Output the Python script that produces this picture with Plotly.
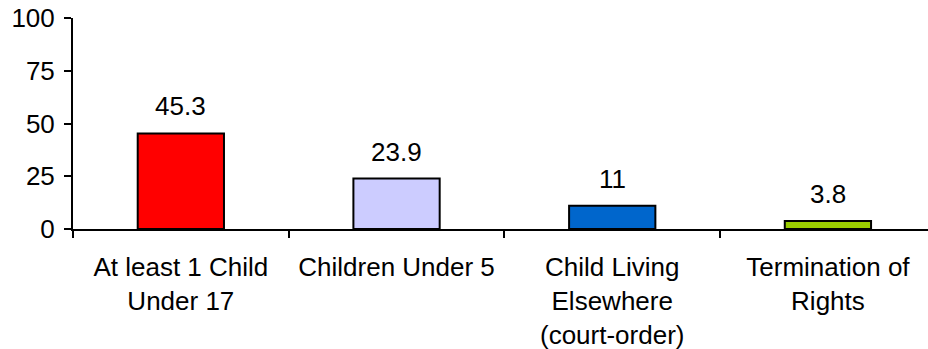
import plotly.graph_objects as go

# Chart data
categories = [
    "At least 1 Child<br>Under 17",
    "Children Under 5",
    "Child Living<br>Elsewhere<br>(court-order)",
    "Termination of<br>Rights",
]
values = [45.3, 23.9, 11, 3.8]
bar_colors = ["#FF0000", "#CCCCFF", "#0066CC", "#99CC00"]
y_ticks = [0, 25, 50, 75, 100]

FONT = "Arial, 'Liberation Sans', sans-serif"
FS = 26

fig = go.Figure()
fig.add_trace(
    go.Bar(
        x=categories,
        y=values,
        width=0.4,
        marker=dict(color=bar_colors, line=dict(color="black", width=2)),
        hoverinfo="skip",
    )
)

# Value labels above each bar
for cat, val in zip(categories, values):
    fig.add_annotation(
        x=cat, y=val, text=f"{val:g}", showarrow=False,
        yanchor="bottom", yshift=10,
        font=dict(family=FONT, size=FS, color="black"),
    )

fig.update_layout(
    width=928, height=349,
    margin=dict(l=73, r=0, t=18, b=120),
    paper_bgcolor="white", plot_bgcolor="white",
    showlegend=False,
    font=dict(family=FONT, size=FS, color="black"),
    xaxis=dict(
        type="category",
        range=[-0.5, 3.464],
        showline=True, linecolor="black", linewidth=2,
        ticks="outside", tickson="boundaries", ticklen=7, tickwidth=2, tickcolor="black",
        showgrid=False, zeroline=False,
        tickfont=dict(family=FONT, size=FS, color="black"),
        ticklabelstandoff=14,
    ),
    yaxis=dict(
        range=[0, 100],
        tickvals=y_ticks,
        showline=True, linecolor="black", linewidth=2,
        ticks="outside", ticklen=7, tickwidth=2, tickcolor="black",
        showgrid=False, zeroline=False,
        tickfont=dict(family=FONT, size=FS, color="black"),
        ticklabelstandoff=4,
    ),
)

fig.write_html("out.html")
